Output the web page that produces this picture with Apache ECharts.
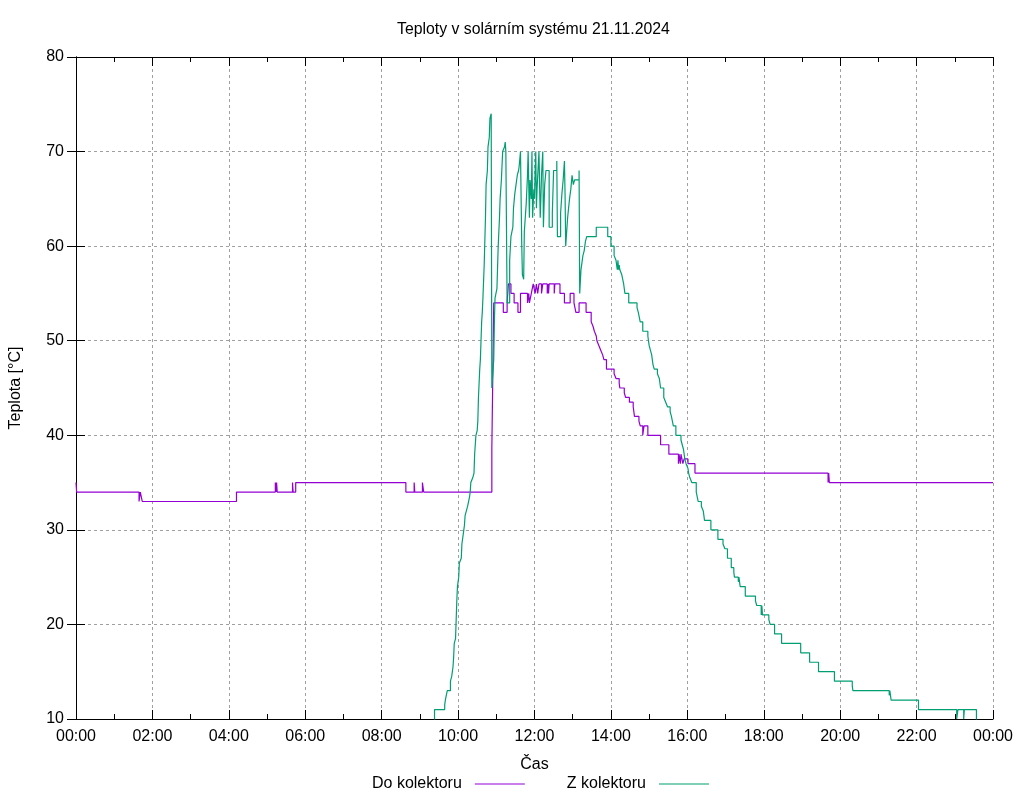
<!DOCTYPE html>
<html>
<head>
<meta charset="utf-8">
<title>Teploty v solárním systému 21.11.2024</title>
<script src="https://cdn.jsdelivr.net/npm/echarts@6/dist/echarts.min.js"></script>
<style>
  html, body { margin: 0; padding: 0; background: #fff; }
  #graf { width: 1024px; height: 800px; }
</style>
</head>
<body>
<div id="graf"></div>
<script>
// teplota vody do kolektoru (cas zmeny -> hodnota)
const doCas = ['00:00','00:01','01:39','01:41','01:44','04:12','05:13','05:14','05:15','05:16','05:40','05:41','05:45',
  '08:38','08:51','08:52','09:04','09:06','10:53','10:56','11:11','11:17','11:19','11:23','11:28','11:34','11:38',
  '11:49','11:51','11:52','11:55','11:58','12:01','12:03','12:05','12:07','12:11','12:13','12:20','12:21','12:22',
  '12:23','12:31','12:32','12:40','12:47','12:56','13:02','13:05','13:10','13:21','13:29','13:32','13:34','13:37',
  '13:38','13:41','13:44','13:47','13:49','13:53','14:05','14:08','14:13','14:14','14:21','14:23','14:29','14:35',
  '14:37','14:44','14:46','14:50','14:52','14:58','15:18','15:31','15:46','15:47','15:49','15:50','15:53','15:55',
  '16:01','16:12','19:41','19:42','19:43','24:00'];
const doTeplota = [35,34,33,34,33,34,35,34,35,34,35,34,35,
  34,35,34,35,34,38.5,54,53,54,56,55,54,53,55,
  54,55,54,55,56,55,56,55,56,55,56,55,56,55,
  56,55,56,55,54,55,54,53,54,53,52,51.5,51,50.5,
  50,49.5,49,48.5,48,47,46.5,46,45.5,45,44.5,44,43.5,43,
  42,41.5,41,40,41,40,39,38,37,38,37,38,37,37.5,
  37,36,35,36,35,35];

// teplota vody z kolektoru
const zCas = ['00:00','09:23','09:39','09:40','09:43','09:48','09:50','09:52','09:53','09:54','09:56','09:57','09:58',
  '09:59','10:01','10:02','10:05','10:06','10:08','10:09','10:10','10:11','10:13','10:15','10:18','10:19','10:20',
  '10:23','10:25','10:26','10:28','10:30','10:31','10:32','10:34','10:35','10:36','10:37','10:38','10:39','10:41',
  '10:43','10:44','10:46','10:47','10:49','10:50','10:52','10:53','10:56','10:57','10:58','11:01','11:03','11:05',
  '11:06','11:08','11:10','11:13','11:14','11:15','11:16','11:17','11:21','11:23','11:26','11:27','11:29','11:31',
  '11:33','11:35','11:36','11:38','11:40','11:41','11:43','11:44','11:47','11:49','11:50','11:52','11:53','11:55',
  '11:56','11:57','11:59','12:00','12:01','12:02','12:03','12:04','12:07','12:09','12:10','12:11','12:13','12:14',
  '12:16','12:18','12:23','12:28','12:30','12:35','12:36','12:41','12:43','12:45','12:47','12:48','12:49','12:52',
  '12:55','12:57','12:59','13:01','13:03','13:10','13:11','13:13','13:14','13:16','13:18','13:20','13:22','13:37',
  '13:55','14:00','14:05','14:08','14:10','14:11','14:12','14:13','14:14','14:17','14:20','14:22','14:28','14:41',
  '14:43','14:46','14:50','14:58','14:59','15:00','15:02','15:04','15:06','15:08','15:13','15:16','15:18','15:23',
  '15:26','15:29','15:33','15:35','15:38','15:42','15:50','15:52','15:54','15:56','15:58','16:01','16:02','16:04',
  '16:07','16:14','16:17','16:22','16:25','16:27','16:37','16:48','16:56','16:59','17:03','17:09','17:13','17:14',
  '17:20','17:21','17:23','17:31','17:47','17:49','17:56','17:57','17:58','18:08','18:10','18:17','18:28','18:58',
  '19:12','19:26','19:51','20:19','20:20','21:17','21:18','21:19','21:20','22:03','23:03','23:05','23:14','23:15',
  '23:34','23:37','24:00'];
const zTeplota = [8,11,11.5,12,13,14,14.5,15.5,16.5,18,18.5,20.5,22.5,
  24,25,26.5,27,28.5,29.5,30,30.5,31.5,32,32.5,33.5,34,35,
  35.5,36,38,40,40.5,41.5,44,47,48,50,52,53,54.5,58,
  63,66.5,68,70.5,71.5,73.5,74,45,48,52,54.5,55.5,60,63,
  65,67,70,70.5,71,70,62,54,58.5,61,62,64,65.5,66.5,
  67.5,68,68.5,70,60,57,56.5,61.5,64.5,67.5,70,63,67,65,
  70,63,66,65,68,70,64,66,70,63,65,67.5,70,62,
  66.5,68,62,63.5,68,69,61,63.5,65.5,67,69,65.5,60,63,
  65,66,67.5,66.5,67,68,55,57.5,58,59,59.5,60.5,61,62,
  61,60,59,58.5,57.5,58.5,57.5,58,57.5,57,56,55,54,53.5,
  53,52,51,50.5,50,49.5,49,48.5,47.5,47,46.5,46,45,44,
  43.5,43,42.5,42,41,40,39.5,39,38.5,37.5,37,36.5,36,35.5,
  35,34,33,32.5,32,31,30,29,28.5,28,27,26,25.5,25,
  24.5,25,24,23,22.5,22,21,22,21,20.5,20,19,18,17,
  16,15,14,13.5,13,12.5,13,12.5,12,11,10,11,10,11,
  10,8,8];

const yTicks = [10, 20, 30, 40, 50, 60, 70, 80];
const nazvy = ['Do kolektoru', 'Z kolektoru'];
const barvy = ['#9400d3', '#009e73'];

function naMinuty(s) {
    const [h, m] = s.split(':').map(Number);
    return h * 60 + m;
}

function naCas(v) {
    const h = Math.floor(v / 60) % 24;
    const m = Math.round(v % 60);
    return String(h).padStart(2, '0') + ':' + String(m).padStart(2, '0');
}

const pismo = "'Liberation Sans', Arial, sans-serif";
const velikost = 16;
const mrizka = { show: true, lineStyle: { color: '#a0a0a0', width: 1, type: [3, 3] } };
const cara = { show: true, lineStyle: { color: '#000', width: 1 } };
const ticky = { inside: true, length: 9, lineStyle: { color: '#000' } };

const chart = echarts.init(document.getElementById('graf'), null, { renderer: 'canvas' });

chart.setOption({
    animation: false,
    backgroundColor: '#fff',
    textStyle: { fontFamily: pismo },
    title: {
        text: 'Teploty v solárním systému 21.11.2024',
        left: 392, top: 17,
        textStyle: { fontFamily: pismo, fontSize: 15.8, fontWeight: 'normal', color: '#000' }
    },
    grid: { left: 74, right: 31, top: 57, bottom: 81 },
    legend: {
        left: 367, top: 771,
        align: 'right',
        icon: 'rect', itemWidth: 50, itemHeight: 1, itemGap: 42,
        textStyle: { fontFamily: pismo, fontSize: velikost, color: '#000', padding: [0, 8, 0, 0] },
        data: nazvy.map((n, i) => ({ name: n, itemStyle: { color: barvy[i] } }))
    },
    xAxis: [{
        type: 'value', min: 0, max: 1440, interval: 120,
        name: 'Čas', nameLocation: 'middle', nameGap: 38,
        nameTextStyle: { fontFamily: pismo, fontSize: velikost, color: '#000' },
        axisLine: cara,
        axisTick: ticky,
        minorTick: { show: true, splitNumber: 2, length: 5, lineStyle: { color: '#000' } },
        axisLabel: { formatter: naCas, fontSize: velikost, color: '#000', margin: 10, fontFamily: pismo },
        splitLine: mrizka
    }, {
        type: 'value', min: 0, max: 1440, interval: 120, position: 'top',
        axisLine: cara,
        axisTick: ticky,
        minorTick: { show: true, splitNumber: 2, length: 5, lineStyle: { color: '#000' } },
        axisLabel: { show: false },
        splitLine: { show: false }
    }],
    yAxis: [{
        type: 'value', min: yTicks[0], max: yTicks[yTicks.length - 1], interval: 10,
        name: 'Teplota [°C]', nameLocation: 'middle', nameGap: 52, nameRotate: 90,
        nameTextStyle: { fontFamily: pismo, fontSize: velikost, color: '#000' },
        axisLine: cara,
        axisTick: ticky,
        axisLabel: { fontSize: velikost, color: '#000', margin: 12, fontFamily: pismo },
        splitLine: mrizka
    }, {
        type: 'value', min: yTicks[0], max: yTicks[yTicks.length - 1], interval: 10, position: 'right',
        axisLine: cara,
        axisTick: ticky,
        axisLabel: { show: false },
        splitLine: { show: false }
    }],
    series: [{
        name: nazvy[0],
        type: 'line', step: 'end', showSymbol: false, clip: true,
        itemStyle: { color: barvy[0] },
        lineStyle: { width: 1.2, color: barvy[0] },
        data: doCas.map((c, i) => [naMinuty(c), doTeplota[i]])
    }, {
        name: nazvy[1],
        type: 'line', step: 'end', showSymbol: false, clip: true,
        itemStyle: { color: barvy[1] },
        lineStyle: { width: 1.2, color: barvy[1] },
        data: zCas.map((c, i) => [naMinuty(c), zTeplota[i]])
    }]
});

window.addEventListener('resize', () => chart.resize());
</script>
</body>
</html>
